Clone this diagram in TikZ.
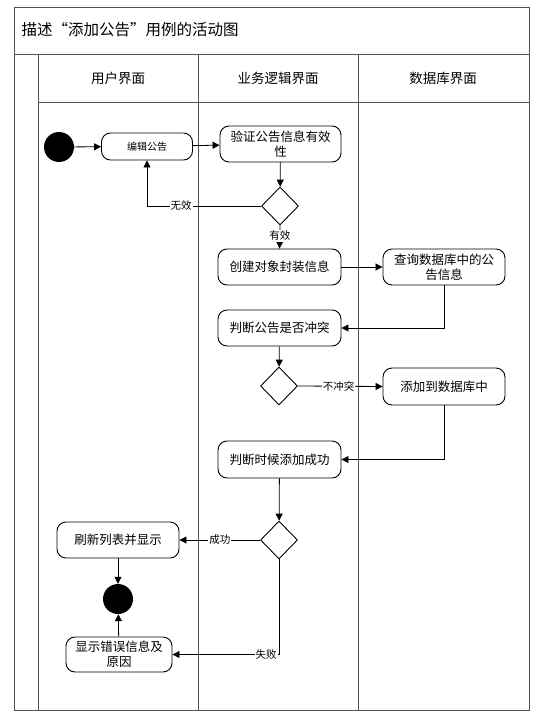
\documentclass[tikz,border=0pt]{standalone}
\usepackage{fontspec}
\setmainfont{Noto Sans CJK SC}
\usetikzlibrary{arrows.meta,shapes.geometric}
\definecolor{frame}{RGB}{85,85,70}
\tikzset{
  act/.style={draw=black,line width=0.9pt,rounded corners=9pt,align=center,font=\fontsize{12.5}{15}\selectfont,inner sep=1pt},
  dec/.style={draw=black,line width=0.9pt,diamond,minimum width=37pt,minimum height=38pt,inner sep=0pt},
  dot/.style={circle,fill=black,minimum size=30pt,inner sep=0pt},
  arr/.style={draw=black,line width=0.8pt,-{Triangle[length=7pt,width=7pt]}},
  lbl/.style={fill=white,inner sep=1pt,font=\fontsize{10.5}{12}\selectfont},
  frm/.style={draw=frame,line width=0.9pt},
  hdr/.style={font=\fontsize{13.5}{16}\selectfont}
}
\begin{document}
\begin{tikzpicture}[x=1pt,y=-1pt]
\useasboundingbox[fill=white] (0,0) rectangle (543,717);
% frame
\draw[frm] (14,7) rectangle (529,710);
\draw[frm] (14,54) -- (529,54);
\draw[frm] (38,102) -- (529,102);
\draw[frm] (38,54) -- (38,710);
\draw[frm] (198,54) -- (198,710);
\draw[frm] (358,54) -- (358,710);
\node[anchor=west,font=\fontsize{15.5}{18}\selectfont] (title) at (18,30) {描述“添加公告”用例的活动图};
\node[hdr] (h1) at (118,78) {用户界面};
\node[hdr] (h2) at (278,78) {业务逻辑界面};
\node[hdr] (h3) at (443,78) {数据库界面};
% nodes
\node[dot] (start) at (59,147) {};
\node[act,minimum width=91pt,minimum height=27pt,font=\fontsize{10}{12}\selectfont] (edit) at (147,146.5) {编辑公告};
\node[act,minimum width=121pt,minimum height=36pt] (verify) at (280.5,144) {验证公告信息有效\\性};
\node[dec] (d1) at (280,206) {};
\node[act,minimum width=123pt,minimum height=36pt] (create) at (279.5,267) {创建对象封装信息};
\node[act,minimum width=122pt,minimum height=36pt] (query) at (444,267) {查询数据库中的公\\告信息};
\node[act,minimum width=123pt,minimum height=36pt] (judge1) at (279.5,328) {判断公告是否冲突};
\node[dec] (d2) at (279,386) {};
\node[act,minimum width=122pt,minimum height=37pt] (add) at (444,386.5) {添加到数据库中};
\node[act,minimum width=123pt,minimum height=37pt] (judge2) at (279.5,459.5) {判断时候添加成功};
\node[dec] (d3) at (279,540) {};
\node[act,minimum width=122pt,minimum height=36pt] (refresh) at (118,540) {刷新列表并显示};
\node[dot] (end) at (118,599) {};
\node[act,minimum width=106pt,minimum height=35pt] (err) at (119,654.5) {显示错误信息及\\原因};
% edges
\draw[arr] (start) -- (edit);
\draw[arr] (edit) -- (verify);
\draw[arr] (verify) -- (d1);
\draw[arr] (d1.west) -| node[lbl,pos=0.35] {无效} (edit.south);
\draw[arr] (d1.south) -- node[lbl,pos=0.45] {有效} (create.north);
\draw[arr] (create) -- (query);
\draw[arr] (query.south) |- (judge1.east);
\draw[arr] (judge1) -- (d2);
\draw[arr] (d2.east) -- node[lbl,pos=0.48] {不冲突} (add.west);
\draw[arr] (add.south) |- (judge2.east);
\draw[arr] (judge2) -- (d3);
\draw[arr] (d3.west) -- node[lbl,pos=0.5] {成功} (refresh.east);
\draw[arr] (refresh) -- (end);
\draw[arr] (d3.south) |- node[lbl,pos=0.56] {失败} (err.east);
\draw[arr] (err) -- (end);
\end{tikzpicture}
\end{document}
